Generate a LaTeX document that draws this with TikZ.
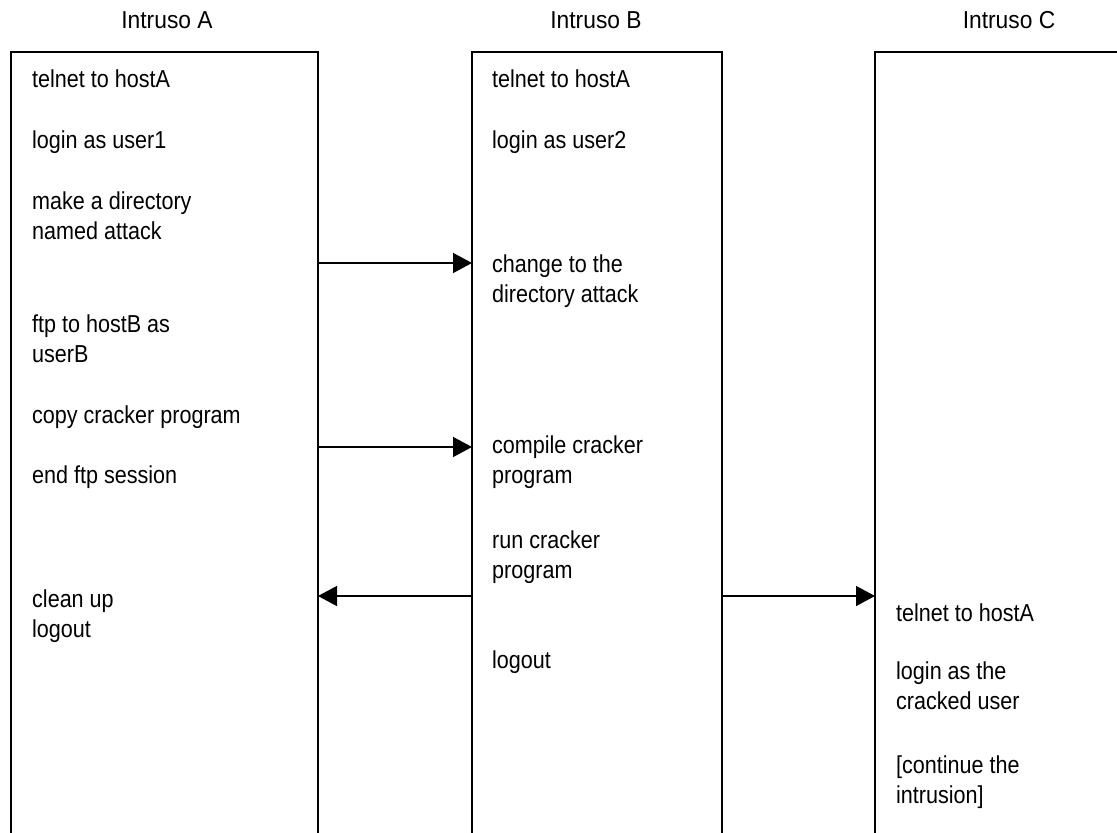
\documentclass[tikz,border=0pt]{standalone}
\usepackage{fontspec}
\setmainfont{Liberation Sans}[FakeStretch=0.88]
\newfontfamily\headfont{Liberation Sans}[FakeStretch=0.93]
\usetikzlibrary{arrows.meta}
\begin{document}
\begin{tikzpicture}[x=1pt,y=-1pt,
  lane/.style={line width=1.4pt},
  msg/.style={line width=1.4pt,-{Triangle[length=19pt,width=20pt]}},
  % multi-line nodes are anchored on the baseline of their last line
  txt/.style={anchor=base west,inner sep=0pt,align=left,
    font=\fontsize{24.5}{30}\selectfont},
  head/.style={anchor=base,inner sep=0pt,
    font=\headfont\fontsize{24.5}{30}\selectfont}]
\useasboundingbox (0,0) rectangle (1117,833);

% lifeline boxes, open at the bottom
\draw[lane] (11,833) -- (11,52) -- (318,52) -- (318,833);
\draw[lane] (472,833) -- (472,52) -- (722,52) -- (722,833);
\draw[lane] (875,833) -- (875,52) -- (1117,52);

% column headings
\node[head] (hA) at (167,28) {Intruso A};
\node[head] (hB) at (596,28) {Intruso B};
\node[head] (hC) at (1009,28) {Intruso C};

% Intruso A
\node[txt] (a1) at (32,87)  {telnet to hostA};
\node[txt] (a2) at (32,148) {login as user1};
\node[txt] (a3) at (32,239) {make a directory\\named attack};
\node[txt] (a4) at (32,362) {ftp to hostB as\\userB};
\node[txt] (a5) at (32,423) {copy cracker program};
\node[txt] (a6) at (32,483) {end ftp session};
\node[txt] (a7) at (32,637) {clean up\\logout};

% Intruso B
\node[txt] (b1) at (492,87)  {telnet to hostA};
\node[txt] (b2) at (492,148) {login as user2};
\node[txt] (b3) at (492,302) {change to the\\directory attack};
\node[txt] (b4) at (492,483) {compile cracker\\program};
\node[txt] (b5) at (492,578) {run cracker\\program};
\node[txt] (b6) at (492,668) {logout};

% Intruso C
\node[txt] (c1) at (896,621) {telnet to hostA};
\node[txt] (c2) at (896,709) {login as the\\cracked user};
\node[txt] (c3) at (896,803) {[continue the\\intrusion]};

% message end points on the lifeline edges
\coordinate (mA1) at (318,263);
\coordinate (mB1) at (472,263);
\coordinate (mA2) at (318,447);
\coordinate (mB2) at (472,447);
\coordinate (mA3) at (318,596);
\coordinate (mB3) at (472,596);
\coordinate (mB4) at (722,596);
\coordinate (mC4) at (875,596);

% messages
\draw[msg] (mA1) -- (mB1);
\draw[msg] (mA2) -- (mB2);
\draw[msg] (mB3) -- (mA3);
\draw[msg] (mB4) -- (mC4);
\end{tikzpicture}
\end{document}
